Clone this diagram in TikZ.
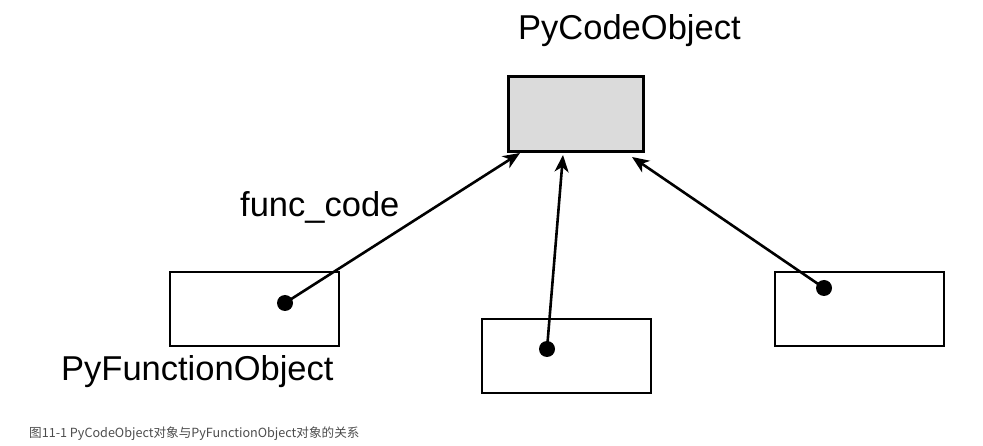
\documentclass[tikz,border=0pt]{standalone}
\usepackage{fontspec}
\setmainfont{Liberation Sans}
\newfontfamily\cjk{Noto Sans CJK SC}
\usetikzlibrary{arrows.meta}
\begin{document}
\begin{tikzpicture}[x=1pt,y=-1pt,
  objbox/.style={draw=black,line width=2.6pt,minimum width=169pt,minimum height=74pt,inner sep=0pt},
  codebox/.style={draw=black,line width=3pt,fill=black!14,minimum width=135pt,minimum height=75pt,inner sep=0pt},
  ptr/.style={circle,fill=black,inner sep=0pt,minimum size=16pt},
  ref/.style={line width=2.6pt,-{Stealth[length=17pt,width=14pt,inset=5pt]}},
  lbl/.style={font=\fontsize{34.5pt}{36pt}\selectfont,inner sep=0pt,anchor=base west}]
\useasboundingbox (0,0) rectangle (983,446);
% top code object
\node[codebox] (code) at (575.5,114.5) {};
\node[lbl] (codelbl) at (518,40) {PyCodeObject};
% bottom boxes
\node[objbox] (f1) at (254.5,309) {};
\node[objbox] (f2) at (566.5,356) {};
\node[objbox] (f3) at (859.5,309) {};
% pointer dots
\node[ptr] (d1) at (285,303) {};
\node[ptr] (d2) at (547,349) {};
\node[ptr] (d3) at (824,288) {};
% arrow targets on code box
\coordinate (t1) at (520,153);
\coordinate (t2) at (563,155);
\coordinate (t3) at (632,157);
\draw[ref] (d1.center) -- (t1);
\draw[ref] (d2.center) -- (t2);
\draw[ref] (d3.center) -- (t3);
% labels
\node[lbl] (fc) at (240,217) {func\_code};
\node[lbl] (pfo) at (61,381) {PyFunctionObject};
\node[font=\cjk\fontsize{12.6pt}{14pt}\selectfont,text=black!70,inner sep=0pt,anchor=base west] (cap) at (29,437) {图11-1 PyCodeObject对象与PyFunctionObject对象的关系};
\end{tikzpicture}
\end{document}
